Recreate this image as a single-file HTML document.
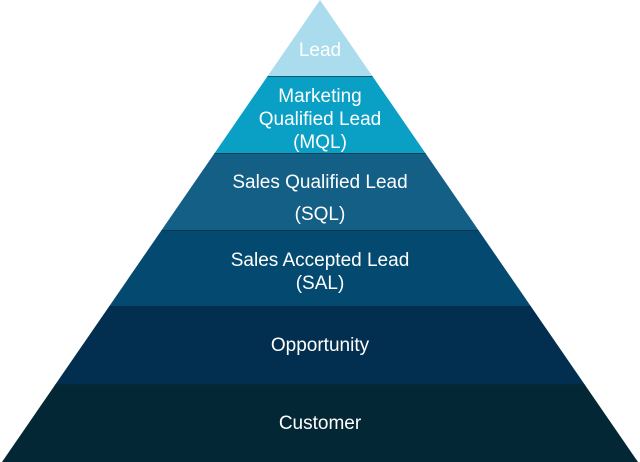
<!DOCTYPE html>
<html><head><style>html,body{margin:0;padding:0;background:#fff}svg{display:block}</style></head>
<body>
<svg width="640" height="462" viewBox="0 0 640 462" xmlns="http://www.w3.org/2000/svg">
<defs><clipPath id="c"><polygon points="320,0 638,462 2,462"/></clipPath></defs>
<g clip-path="url(#c)">
<rect x="0" y="0" width="640" height="76" fill="#aadcee"/>
<rect x="0" y="76" width="640" height="77" fill="#0aa0c5"/>
<rect x="0" y="153" width="640" height="77" fill="#135f85"/>
<rect x="0" y="230" width="640" height="76" fill="#044a70"/>
<rect x="0" y="306" width="640" height="78" fill="#022f50"/>
<rect x="0" y="384" width="640" height="78" fill="#032734"/>
<g stroke="#0a2a3a" stroke-width="1" opacity="0.6">
<line x1="0" y1="76.5" x2="640" y2="76.5"/><line x1="0" y1="153.5" x2="640" y2="153.5"/>
<line x1="0" y1="230.5" x2="640" y2="230.5"/><line x1="0" y1="306.5" x2="640" y2="306.5"/>
<line x1="0" y1="384.5" x2="640" y2="384.5"/></g>
</g>
<g fill="#fff" font-family="'Liberation Sans',sans-serif" font-size="19" text-anchor="middle">
<text x="320" y="56">Lead</text>
<text x="320" y="102">Marketing</text>
<text x="320" y="125">Qualified Lead</text>
<text x="320" y="148">(MQL)</text>
<text x="320" y="188">Sales Qualified Lead</text>
<text x="320" y="220">(SQL)</text>
<text x="320" y="266">Sales Accepted Lead</text>
<text x="320" y="289">(SAL)</text>
<text x="320" y="351">Opportunity</text>
<text x="320" y="429">Customer</text>
</g>
</svg>
</body></html>
